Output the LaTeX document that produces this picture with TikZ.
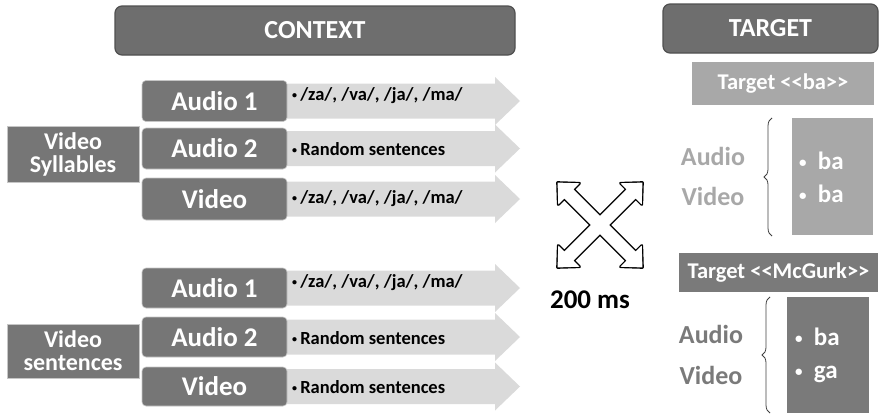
\documentclass[tikz,border=0pt]{standalone}
\usepackage{fontspec}
\setmainfont{Carlito}
\usetikzlibrary{decorations.pathreplacing}
\definecolor{darkbox}{HTML}{767676}
\definecolor{hdrbox}{HTML}{6E6E6E}
\definecolor{hdredge}{HTML}{505050}
\definecolor{lightbox}{HTML}{A8A8A8}
\definecolor{arrowfill}{HTML}{DADADA}
\definecolor{mcbox}{HTML}{7A7A7A}
\newcommand{\smbul}{\raisebox{0.12em}{\fontsize{10}{10}\selectfont\textbullet}}
\newcommand{\bigbul}{\raisebox{0.08em}{\fontsize{15}{15}\selectfont\textbullet}}
\tikzset{
  hdr/.style={draw=hdredge, line width=1.2pt, fill=hdrbox, rounded corners=7pt, text=white, font=\bfseries\fontsize{26}{28}\selectfont, inner sep=0pt},
  rowbox/.style={draw=gray!45, line width=0.6pt, fill=darkbox, rounded corners=4pt, text=white, font=\bfseries\fontsize{27}{29}\selectfont, minimum width=145pt, inner sep=0pt},
  grpbox/.style={draw=gray!45, line width=0.6pt, fill=darkbox, text=white, font=\bfseries\fontsize{24}{26}\selectfont, minimum width=132pt, inner sep=0pt, align=center},
  arrtxt/.style={anchor=west, text=black, font=\bfseries\fontsize{18.5}{20}\selectfont, inner sep=0pt},
  flowarrow/.style={fill=arrowfill, draw=none},
  tbox/.style={text=white, inner sep=0pt, font=\bfseries\fontsize{22.5}{24}\selectfont},
  sidelbl/.style={font=\bfseries\fontsize{26}{28}\selectfont, inner sep=0pt},
  bullets/.style={text=white, font=\bfseries\fontsize{25}{33}\selectfont, inner sep=0pt, align=left, anchor=west},
  bracestyle/.style={draw=black!75, line width=0.8pt, decorate, decoration={brace, amplitude=8pt}},
  crossout/.style={draw=black, line width=2.8pt, line join=round},
  crossin/.style={fill=white, draw=none}
}
\newcommand{\flowarr}[1]{%
  \fill[flowarrow] (283,#1-17.5) -- (495,#1-17.5) -- (495,#1-24) -- (520,#1) -- (495,#1+24) -- (495,#1+17.5) -- (283,#1+17.5) -- cycle;}
\newcommand{\crossshape}{(-60,0) -- (-44,15) -- (-44,6.5) -- (44,6.5) -- (44,15) -- (60,0) -- (44,-15) -- (44,-6.5) -- (-44,-6.5) -- (-44,-15) -- cycle}
\begin{document}
\begin{tikzpicture}[x=1pt, y=-1pt]
\useasboundingbox (0,0) rectangle (888,415);
% headers
\node[hdr, minimum width=400pt, minimum height=49pt] (context) at (315,30.5) {CONTEXT};
\node[hdr, minimum width=215pt, minimum height=49pt] (target) at (770.5,28.5) {TARGET};
% flow arrows
\flowarr{101}
\flowarr{148.5}
\flowarr{199}
\flowarr{288}
\flowarr{337}
\flowarr{386.5}
% upper group
\node[grpbox, minimum height=56pt] (vsyl) at (73,154) {Video\\[-3pt]Syllables};
\node[rowbox, minimum height=41pt] (a1u) at (214.5,101) {Audio 1};
\node[rowbox, minimum height=41pt] (a2u) at (214.5,148.5) {Audio 2};
\node[rowbox, minimum height=42pt] (vu) at (214.5,199) {Video};
\node[arrtxt] (t1u) at (292,96) {\smbul\,/za/, /va/, /ja/, /ma/};
\node[arrtxt] (t2u) at (292,149) {\smbul\,Random sentences};
\node[arrtxt] (t3u) at (292,199) {\smbul\,/za/, /va/, /ja/, /ma/};
% lower group
\node[grpbox, minimum height=54pt] (vsen) at (73,351) {Video\\[-3pt]sentences};
\node[rowbox, minimum height=40pt] (a1l) at (214.5,288) {Audio 1};
\node[rowbox, minimum height=40pt] (a2l) at (214.5,337) {Audio 2};
\node[rowbox, minimum height=39pt] (vl) at (214.5,386.5) {Video};
\node[arrtxt] (t1l) at (292,283) {\smbul\,/za/, /va/, /ja/, /ma/};
\node[arrtxt] (t2l) at (292,338) {\smbul\,Random sentences};
\node[arrtxt] (t3l) at (292,387) {\smbul\,Random sentences};
% cross arrows
\begin{scope}[shift={(600,225)}]
  \draw[crossout, rotate=45] \crossshape;
  \draw[crossout, rotate=-45] \crossshape;
  \fill[crossin, rotate=45] \crossshape;
  \fill[crossin, rotate=-45] \crossshape;
\end{scope}
\node[font=\bfseries\fontsize{27}{29}\selectfont, inner sep=0pt] (ms) at (590,300) {200 ms};
% target ba
\node[fill=lightbox, tbox, minimum width=182pt, minimum height=43pt] (tba) at (783,83.5) {Target <{}<ba>{}>};
\node[fill=lightbox, minimum width=81pt, minimum height=117pt, inner sep=0pt] (baboxu) at (832.5,176.5) {};
\node[bullets] (bau) at (799,177) {\bigbul\ \ ba\\\bigbul\ \ ba};
\node[sidelbl, text=lightbox] (audu) at (713,156) {Audio};
\node[sidelbl, text=lightbox] (vidu) at (713,196) {Video};
\coordinate (bu1) at (772,236);
\coordinate (bu2) at (772,118);
\draw[bracestyle] (bu1) -- (bu2);
% target McGurk
\node[fill=mcbox, tbox, minimum width=199pt, minimum height=39pt] (tmc) at (778.5,272.5) {Target <{}<McGurk>{}>};
\node[fill=mcbox, minimum width=82pt, minimum height=116pt, inner sep=0pt] (baboxl) at (828,355) {};
\node[bullets] (bal) at (795,355) {\bigbul\ \ ba\\\bigbul\ \ ga};
\node[sidelbl, text=mcbox] (audl) at (711,334) {Audio};
\node[sidelbl, text=mcbox] (vidl) at (711,375) {Video};
\coordinate (bl1) at (770,413);
\coordinate (bl2) at (770,297);
\draw[bracestyle] (bl1) -- (bl2);
\end{tikzpicture}
\end{document}
